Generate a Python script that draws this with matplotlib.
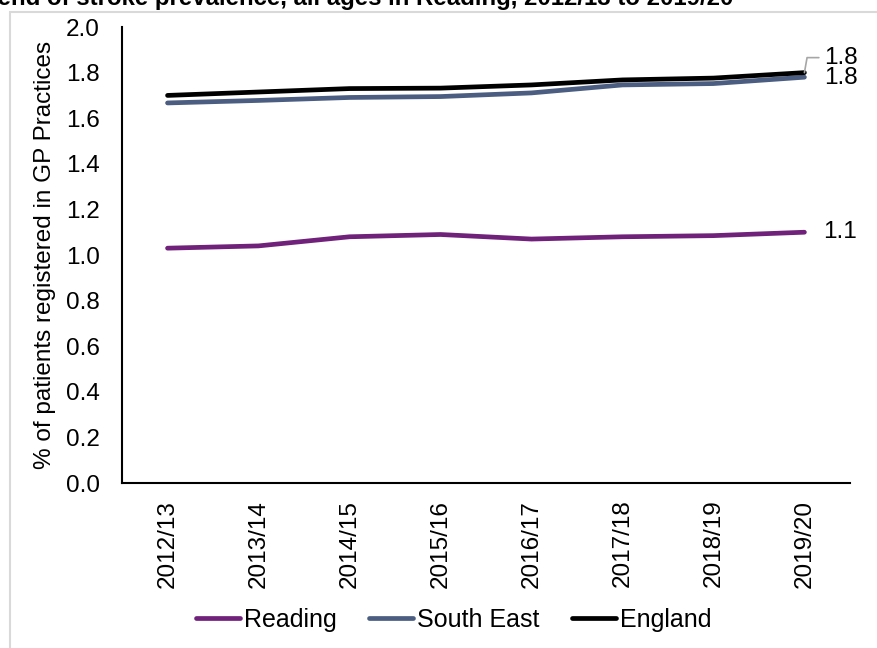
import matplotlib.pyplot as plt
import matplotlib.patches as patches

plt.rcParams['font.family'] = ['Liberation Sans', 'DejaVu Sans']

years = ['2012/13', '2013/14', '2014/15', '2015/16', '2016/17', '2017/18', '2018/19', '2019/20']
reading = [1.03, 1.04, 1.08, 1.09, 1.07, 1.08, 1.085, 1.10]
south_east = [1.667, 1.678, 1.691, 1.695, 1.711, 1.746, 1.752, 1.78]
england = [1.70, 1.715, 1.73, 1.732, 1.746, 1.768, 1.776, 1.80]

fig = plt.figure(figsize=(8.78, 6.48), dpi=100)
ax = fig.add_axes([0.139, 0.2546, 0.829, 0.7037])

# light grey chart-area frame
fig.patches.append(patches.Rectangle((10 / 878, -0.05), 1.0, 1 - 12 / 648 + 0.05,
                                     transform=fig.transFigure, fill=False,
                                     edgecolor='#D9D9D9', linewidth=1.5))

x = range(len(years))
ax.plot(x, reading, color='#70217A', lw=3.4, label='Reading', solid_capstyle='round')
ax.plot(x, south_east, color='#4B5D80', lw=3.4, label='South East', solid_capstyle='round')
ax.plot(x, england, color='black', lw=3.4, label='England', solid_capstyle='round')

ax.set_xlim(-0.5, 7.5)
ax.set_ylim(0, 2.0)
ax.set_yticks([i / 5 for i in range(11)])
ax.set_yticklabels([f'{i / 5:.1f}' for i in range(11)])
ax.set_xticks(list(x))
ax.set_xticklabels(years, rotation=90)
ax.tick_params(axis='y', length=0, pad=16, labelsize=17.5)
ax.tick_params(axis='x', length=0, pad=12, labelsize=17.5)
for s in ['top', 'right']:
    ax.spines[s].set_visible(False)
for s in ['left', 'bottom']:
    ax.spines[s].set_linewidth(1.5)

ax.set_ylabel('% of patients registered in GP Practices', fontsize=17.5, labelpad=7)

# end-point data labels
ax.annotate(f'{england[-1]:.1f}', xy=(7, england[-1]), xytext=(20, 15),
            textcoords='offset pixels', fontsize=17.5, va='center', ha='left',
            arrowprops=dict(arrowstyle='-', color='#A6A6A6', lw=1.2,
                            connectionstyle='angle,angleA=0,angleB=80,rad=0',
                            shrinkA=2, shrinkB=0))
ax.annotate(f'{south_east[-1]:.1f}', xy=(7, south_east[-1]), xytext=(20, -1),
            textcoords='offset pixels', fontsize=17.5, va='center', ha='left')
ax.annotate(f'{reading[-1]:.1f}', xy=(7, reading[-1]), xytext=(19, 0),
            textcoords='offset pixels', fontsize=17.5, va='center', ha='left')

fig.legend(loc='center', bbox_to_anchor=(0.517, 0.043), ncol=3, frameon=False,
           fontsize=18, handlelength=1.76, handletextpad=0.15, columnspacing=1.3)

fig.text(-0.029, 1 - 5 / 648, 'Trend of stroke prevalence, all ages in Reading, 2012/13 to 2019/20',
         fontsize=17.3, fontweight='bold', va='baseline', ha='left')

fig.savefig('out.png', dpi=100)
